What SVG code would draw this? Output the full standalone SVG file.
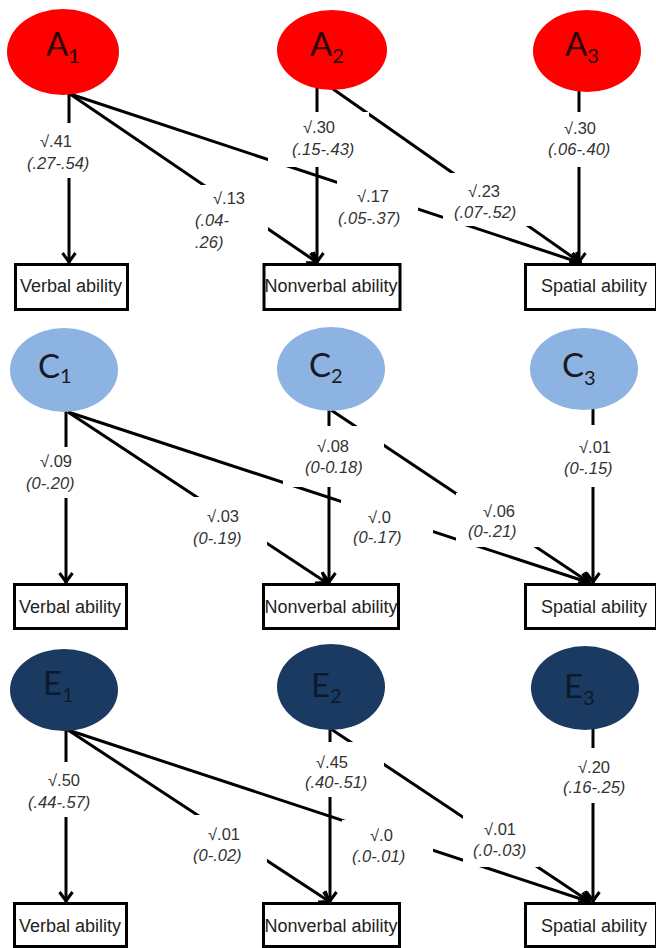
<svg xmlns="http://www.w3.org/2000/svg" width="656" height="948" viewBox="0 0 656 948">
<defs>
<style>
.ln{stroke:#000;stroke-width:3;fill:none;marker-end:url(#arr);}
.bg{fill:#fff;}
.lv{font-family:"Liberation Sans",Arial,sans-serif;font-size:16.5px;fill:#333;}
.ci{font-style:italic;}
.box{fill:#fff;stroke:#000;stroke-width:3;}
.bt{font-family:"Liberation Sans",Arial,sans-serif;font-size:18px;fill:#222;text-anchor:middle;}
.nt{font-family:Lato,"Liberation Sans",sans-serif;font-size:33px;}
.sub{font-size:20px;}
.a{fill:#ff0000;}
.c{fill:#8db3e2;}
.e{fill:#1b3a62;}
.at{fill:#2a0505;}
.ct{fill:#1a1a22;}
.et{fill:#0c1a2e;}
</style>
<marker id="arr" markerUnits="userSpaceOnUse" markerWidth="24" markerHeight="24" viewBox="-15 -12 24 24" refX="0" refY="0" orient="auto" overflow="visible">
<path d="M-10,-6.5 L-1,0 L-10,6.5" fill="none" stroke="#000" stroke-width="3"/>
</marker>
</defs>
<rect x="0" y="0" width="656" height="948" fill="#fff"/>

<g id="connectors">
<line class="ln" x1="69" y1="93" x2="69" y2="263"/>
<line class="ln" x1="70" y1="94" x2="318" y2="263"/>
<line class="ln" x1="70" y1="94" x2="581" y2="263"/>
<line class="ln" x1="317" y1="88" x2="317" y2="263"/>
<line class="ln" x1="333" y1="89" x2="581" y2="263"/>
<line class="ln" x1="579" y1="91" x2="579" y2="263"/>

<line class="ln" x1="66" y1="411" x2="66" y2="583"/>
<line class="ln" x1="68" y1="412" x2="327" y2="583"/>
<line class="ln" x1="68" y1="412" x2="590" y2="583"/>
<line class="ln" x1="329" y1="410" x2="329" y2="583"/>
<line class="ln" x1="331" y1="410" x2="590" y2="583"/>
<line class="ln" x1="593" y1="409" x2="593" y2="583"/>

<line class="ln" x1="66" y1="730" x2="66" y2="902"/>
<line class="ln" x1="68" y1="730" x2="330" y2="902"/>
<line class="ln" x1="68" y1="730" x2="590" y2="902"/>
<line class="ln" x1="330" y1="729" x2="330" y2="902"/>
<line class="ln" x1="331" y1="729" x2="590" y2="902"/>
<line class="ln" x1="593" y1="729" x2="593" y2="902"/>
</g>

<g id="connector-labels">
<g id="lbl-a1-verbal"><rect class="bg" x="22" y="123" width="73" height="55"/>
<text class="lv" x="40" y="147">√.41</text><text class="lv ci" x="27" y="169">(.27-.54)</text></g>
<g id="lbl-a1-nonverbal"><rect class="bg" x="190" y="185" width="78" height="65"/>
<text class="lv" x="213" y="204">√.13</text><text class="lv ci" x="195" y="226">(.04-</text><text class="lv ci" x="195" y="248">.26)</text></g>
<g id="lbl-a2-nonverbal"><rect class="bg" x="268" y="112" width="101" height="55"/>
<text class="lv" x="303" y="133">√.30</text><text class="lv ci" x="292" y="155">(.15-.43)</text></g>
<g id="lbl-a1-spatial"><rect class="bg" x="337" y="180" width="81" height="50"/>
<text class="lv" x="357" y="202">√.17</text><text class="lv ci" x="338" y="224">(.05-.37)</text></g>
<g id="lbl-a2-spatial"><rect class="bg" x="443" y="173" width="93" height="53"/>
<text class="lv" x="468" y="197">√.23</text><text class="lv ci" x="454" y="218">(.07-.52)</text></g>
<g id="lbl-a3-spatial"><rect class="bg" x="545" y="112" width="70" height="55"/>
<text class="lv" x="564" y="134">√.30</text><text class="lv ci" x="548" y="155">(.06-.40)</text></g>

<g id="lbl-c1-verbal"><rect class="bg" x="22" y="447" width="70" height="51"/>
<text class="lv" x="40" y="467">√.09</text><text class="lv ci" x="26" y="489">(0-.20)</text></g>
<g id="lbl-c1-nonverbal"><rect class="bg" x="190" y="497" width="77" height="53"/>
<text class="lv" x="207" y="522">√.03</text><text class="lv ci" x="193" y="544">(0-.19)</text></g>
<g id="lbl-c2-nonverbal"><rect class="bg" x="283" y="426" width="101" height="61"/>
<text class="lv" x="317" y="452">√.08</text><text class="lv ci" x="305" y="473">(0-0.18)</text></g>
<g id="lbl-c1-spatial"><rect class="bg" x="341" y="500" width="92" height="50"/>
<text class="lv" x="368" y="523">√.0</text><text class="lv ci" x="353" y="543">(0-.17)</text></g>
<g id="lbl-c2-spatial"><rect class="bg" x="456" y="493" width="83" height="54"/>
<text class="lv" x="483" y="517">√.06</text><text class="lv ci" x="468" y="537">(0-.21)</text></g>
<g id="lbl-c3-spatial"><rect class="bg" x="555" y="425" width="70" height="62"/>
<text class="lv" x="579" y="453">√.01</text><text class="lv ci" x="564" y="474">(0-.15)</text></g>

<g id="lbl-e1-verbal"><rect class="bg" x="22" y="762" width="73" height="55"/>
<text class="lv" x="48" y="786">√.50</text><text class="lv ci" x="28" y="808">(.44-.57)</text></g>
<g id="lbl-e1-nonverbal"><rect class="bg" x="190" y="815" width="77" height="55"/>
<text class="lv" x="208" y="840">√.01</text><text class="lv ci" x="193" y="861">(0-.02)</text></g>
<g id="lbl-e2-nonverbal"><rect class="bg" x="290" y="742" width="94" height="55"/>
<text class="lv" x="316" y="768">√.45</text><text class="lv ci" x="305" y="788">(.40-.51)</text></g>
<g id="lbl-e1-spatial"><rect class="bg" x="342" y="820" width="91" height="50"/>
<text class="lv" x="370" y="841">√.0</text><text class="lv ci" x="352" y="862">(.0-.01)</text></g>
<g id="lbl-e2-spatial"><rect class="bg" x="463" y="815" width="76" height="52"/>
<text class="lv" x="484" y="835">√.01</text><text class="lv ci" x="473" y="856">(.0-.03)</text></g>
<g id="lbl-e3-spatial"><rect class="bg" x="555" y="748" width="75" height="55"/>
<text class="lv" x="578" y="773">√.20</text><text class="lv ci" x="563" y="793">(.16-.25)</text></g>
</g>

<g id="node-A1"><ellipse class="a" cx="63" cy="52" rx="56" ry="43"/><text class="nt at" x="46" y="56">A<tspan class="sub" dy="7">1</tspan></text></g>
<g id="node-A2"><ellipse class="a" cx="332" cy="50" rx="55" ry="40"/><text class="nt at" x="310" y="56">A<tspan class="sub" dy="7">2</tspan></text></g>
<g id="node-A3"><ellipse class="a" cx="587" cy="51" rx="54" ry="41"/><text class="nt at" x="565" y="56">A<tspan class="sub" dy="7">3</tspan></text></g>

<g id="node-C1"><ellipse class="c" cx="64" cy="370" rx="54" ry="42"/><text class="nt ct" x="38" y="378">C<tspan class="sub" dy="5">1</tspan></text></g>
<g id="node-C2"><ellipse class="c" cx="331" cy="369" rx="54" ry="42"/><text class="nt ct" x="309" y="377">C<tspan class="sub" dy="6">2</tspan></text></g>
<g id="node-C3"><ellipse class="c" cx="584" cy="369" rx="54" ry="41"/><text class="nt ct" x="562" y="377">C<tspan class="sub" dy="8">3</tspan></text></g>

<g id="node-E1"><ellipse class="e" cx="64" cy="690" rx="54" ry="41"/><text class="nt et" x="43" y="695">E<tspan class="sub" dy="7">1</tspan></text></g>
<g id="node-E2"><ellipse class="e" cx="331" cy="687" rx="54" ry="43"/><text class="nt et" x="311" y="697">E<tspan class="sub" dy="6">2</tspan></text></g>
<g id="node-E3"><ellipse class="e" cx="585" cy="688" rx="54" ry="42"/><text class="nt et" x="564" y="698">E<tspan class="sub" dy="7">3</tspan></text></g>

<g id="node-A-verbal"><rect class="box" x="15.5" y="264.5" width="112" height="45"/><text class="bt" x="71" y="292">Verbal ability</text></g>
<g id="node-A-nonverbal"><rect class="box" x="264" y="264.5" width="136" height="45"/><text class="bt" x="331" y="292">Nonverbal ability</text></g>
<g id="node-A-spatial"><rect class="box" x="525.5" y="264.5" width="131" height="45"/><text class="bt" x="594" y="292">Spatial ability</text></g>

<g id="node-C-verbal"><rect class="box" x="14.5" y="584.5" width="112" height="44"/><text class="bt" x="70" y="613">Verbal ability</text></g>
<g id="node-C-nonverbal"><rect class="box" x="263.5" y="584.5" width="135" height="44"/><text class="bt" x="331" y="613">Nonverbal ability</text></g>
<g id="node-C-spatial"><rect class="box" x="525.5" y="584.5" width="131" height="44"/><text class="bt" x="594" y="613">Spatial ability</text></g>

<g id="node-E-verbal"><rect class="box" x="14.5" y="903.5" width="112" height="43"/><text class="bt" x="70" y="932">Verbal ability</text></g>
<g id="node-E-nonverbal"><rect class="box" x="263.5" y="903.5" width="136" height="43"/><text class="bt" x="331" y="932">Nonverbal ability</text></g>
<g id="node-E-spatial"><rect class="box" x="525.5" y="903.5" width="131" height="43"/><text class="bt" x="594" y="932">Spatial ability</text></g>
</svg>
